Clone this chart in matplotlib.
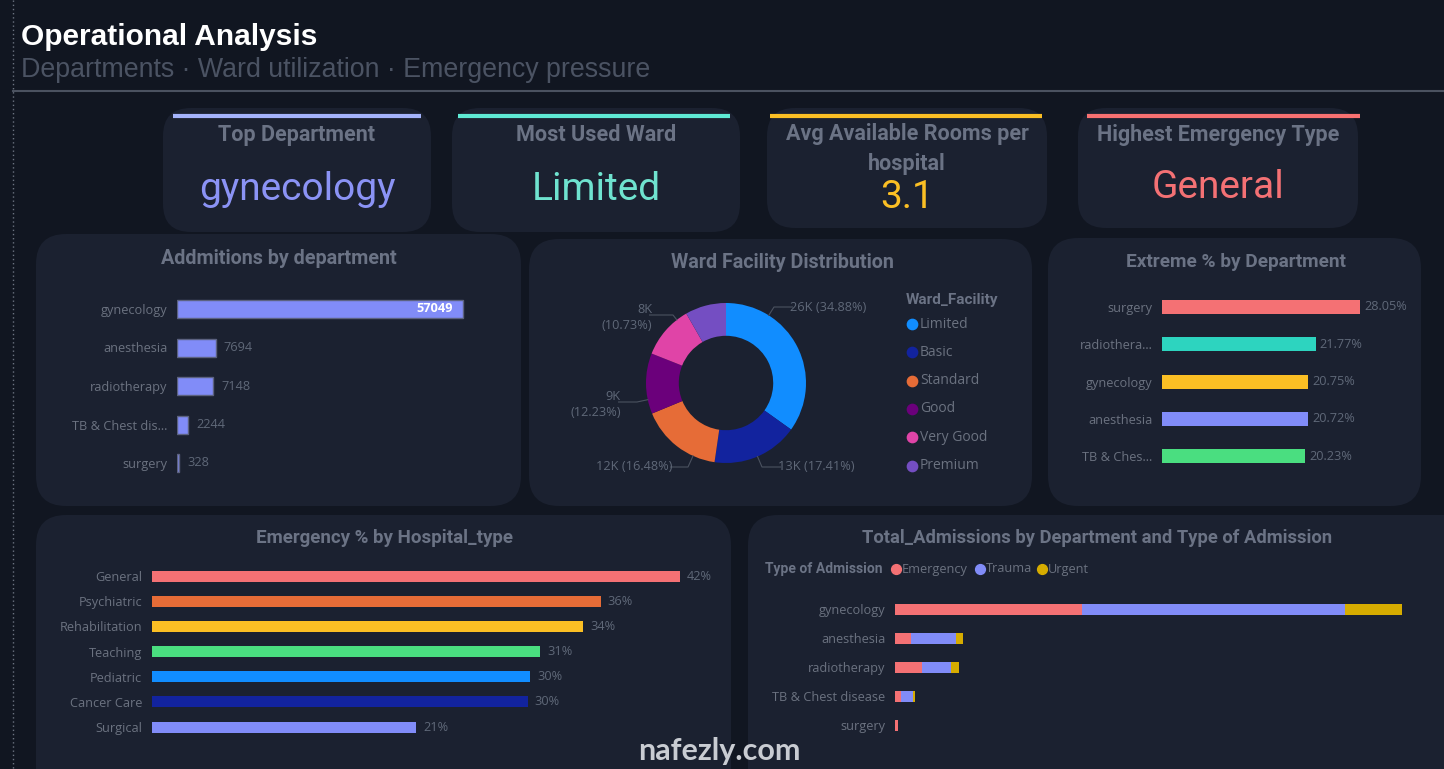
import matplotlib
matplotlib.use("Agg")
import matplotlib.pyplot as plt
from matplotlib.patches import FancyBboxPatch
import numpy as np

# ---- data ----
kpi_titles = ["Top Department", "Most Used Ward", "Avg Available Rooms per\nhospital", "Highest Emergency Type"]
kpi_values = ["gynecology", "Limited", "3.1", "General"]

departments = ["gynecology", "anesthesia", "radiotherapy", "TB & Chest disease", "surgery"]
dept_short = ["gynecology", "anesthesia", "radiotherapy", "TB & Chest dis...", "surgery"]
admissions = [57049, 7694, 7148, 2244, 328]

ward_facility = ["Limited", "Basic", "Standard", "Good", "Very Good", "Premium"]
ward_counts = [25973, 12964, 12272, 9107, 7990, 6158]

extreme_depts = ["surgery", "radiothera...", "gynecology", "anesthesia", "TB & Ches..."]
extreme_pct = [28.05, 21.77, 20.75, 20.72, 20.23]

hospital_types = ["General", "Psychiatric", "Rehabilitation", "Teaching", "Pediatric", "Cancer Care", "Surgical"]
emergency_pct = [42.0, 35.7, 34.3, 30.9, 30.1, 29.9, 21.0]

admission_types = ["Emergency", "Trauma", "Urgent"]
adm_emergency = [21040, 1800, 3040, 680, 328]
adm_trauma = [29590, 5060, 3260, 1350, 0]
adm_urgent = [6419, 834, 848, 214, 0]

# ---- style ----
BG = "#111621"
PANEL = "#1b2130"
TITLE_C = "#6b7385"
LABEL_C = "#6b7280"
VALUE_C = "#5f6878"
HEAD_FONT = "Liberation Sans"
BOLD_FONT = "Roboto"
TXT_FONT = "Open Sans"

kpi_colors = ["#8b93f5", "#6fe3cf", "#fbbf24", "#f47174"]
accent_colors = ["#a5b4fc", "#5eead4", "#fbbf24", "#f87171"]
ward_colors = ["#118dff", "#12239e", "#e66c37", "#6b007b", "#e044a7", "#744ec2"]
extreme_colors = ["#f47174", "#2dd4bf", "#fbbf24", "#818cf8", "#4ade80"]
hosp_colors = ["#f47174", "#e66c37", "#fbbf24", "#4ade80", "#118dff", "#12239e", "#818cf8"]
adm_colors = ["#f47174", "#818cf8", "#d6ac00"]

W, H = 1444, 769
fig = plt.figure(figsize=(W / 100, H / 100), dpi=100, facecolor=BG)

bg = fig.add_axes([0, 0, 1, 1])
bg.set_xlim(0, W)
bg.set_ylim(H, 0)
bg.axis("off")
bg.set_facecolor(BG)


def px_ax(x0, y0, x1, y1):
    ax = fig.add_axes([x0 / W, 1 - y1 / H, (x1 - x0) / W, (y1 - y0) / H])
    ax.patch.set_alpha(0)
    return ax


def panel(x0, y0, x1, y1, r=30):
    bg.add_patch(FancyBboxPatch((x0, y0), x1 - x0, y1 - y0,
                                boxstyle=f"round,pad=0,rounding_size={r}",
                                fc=PANEL, ec="none"))


# header
bg.plot([13, 13], [0, H], color="#6b7280", lw=1, ls=(0, (1, 2)))
bg.plot([13, W], [91, 91], color="#4b5260", lw=1.5)
bg.text(21, 37, "Operational Analysis", color="white", fontsize=21.5, fontweight="bold",
        family=HEAD_FONT, va="center")
bg.text(21, 70, "Departments · Ward utilization · Emergency pressure", color="#4b5363",
        fontsize=19.3, family=HEAD_FONT, va="center")

# KPI cards
kpi_boxes = [(163, 108, 431, 232), (452, 108, 740, 232), (767, 108, 1047, 228), (1078, 108, 1358, 228)]
kpi_accent = [(173, 421), (458, 730), (770, 1042), (1087, 1360)]
kpi_title_y = [135, 135, 149, 135]
kpi_value_y = [189, 189, 198, 187]
for i in range(4):
    x0, y0, x1, y1 = kpi_boxes[i]
    panel(x0, y0, x1, y1, r=28)
    bg.plot(kpi_accent[i], [116, 116], color=accent_colors[i], lw=3, solid_capstyle="butt")
    cx = (x0 + x1) / 2
    bg.text(cx, kpi_title_y[i], kpi_titles[i], color=TITLE_C, fontsize=15.5, fontweight="bold",
            family=BOLD_FONT, ha="center", va="center", linespacing=1.45)
    bg.text(cx, kpi_value_y[i], kpi_values[i], color=kpi_colors[i], fontsize=28,
            family=BOLD_FONT, ha="center", va="center")

# panels
panels = [(36, 234, 521, 506), (529, 239, 1032, 506), (1048, 238, 1421, 506),
          (36, 515, 731, 800), (748, 515, 1480, 800)]
panel_titles = ["Addmitions by department", "Ward Facility Distribution", "Extreme % by Department",
                "Emergency % by Hospital_type", "Total_Admissions by Department and Type of Admission"]
panel_title_x = [279, 782, 1236, 384, 1097]
panel_title_y = [258, 263, 262, 538, 538]
panel_title_size = [14.2, 14.2, 13.7, 13.5, 13.2]
for (x0, y0, x1, y1), t, tx, ty, fs in zip(panels, panel_titles, panel_title_x, panel_title_y,
                                            panel_title_size):
    panel(x0, y0, x1, y1)
    bg.text(tx, ty, t, color=TITLE_C, fontsize=fs,
            fontweight="bold", family=BOLD_FONT, ha="center", va="center")


def bar_axes(x0, x1, y_first, step, n, max_val, bar_px):
    ax = px_ax(x0, y_first - step / 2, x1, y_first + step * (n - 0.5))
    ax.set_ylim(n - 0.5, -0.5)
    ax.set_xlim(0, max_val * (x1 - x0) / bar_px)
    for s in ax.spines.values():
        s.set_visible(False)
    ax.set_xticks([])
    ax.tick_params(axis="y", length=0, colors=LABEL_C)
    return ax


# Admissions by department
n = len(admissions)
ax1 = bar_axes(177, 505, 309, 38.5, n, max(admissions), 286)
ax1.barh(range(n), admissions, height=18 / 38.5, color="#818cf8", edgecolor="#5c6280", lw=1)
ax1.set_yticks(range(n), dept_short, fontsize=9.2, family=TXT_FONT)
ax1.tick_params(axis="y", pad=7)
for i, v in enumerate(admissions):
    if i == 0:
        ax1.annotate(f"{v}", (v, i), xytext=(-7, 0), textcoords="offset points", ha="right",
                     va="center", color="white", fontsize=9.2, fontweight="bold", family=TXT_FONT)
    else:
        ax1.annotate(f"{v}", (v, i), xytext=(6, 0), textcoords="offset points", ha="left",
                     va="center", color=VALUE_C, fontsize=9.2, family=TXT_FONT)

# Ward facility donut
cx, cy, R = 726, 383, 80
axd = px_ax(cx - 1.5 * R, cy - 1.5 * R, cx + 1.5 * R, cy + 1.5 * R)
axd.pie(ward_counts, colors=ward_colors, startangle=90, counterclock=False, radius=1,
        wedgeprops=dict(width=0.41, edgecolor="none"))
axd.set_xlim(-1.5, 1.5)
axd.set_ylim(-1.5, 1.5)
axd.set_aspect("equal")
total = sum(ward_counts)
# leader elbows (px) for the labelled slices
elbows = [(774, 307, 790, "left"), (762, 467, 778, "left"), (688, 467, 673, "right"),
          (637, 402, 621, "right"), (673, 315, 652, "right")]
for i, (ex, ey, tx, ha) in enumerate(elbows):
    v = ward_counts[i]
    ux, uy = (ex - cx) / R, -(ey - cy) / R
    d = np.hypot(ux, uy)
    sx, sy = ux / d, uy / d
    txd = (tx - cx) / R
    axd.plot([sx, ux, txd + (0.03 if ha == "left" else -0.03)], [sy, uy, uy],
             color="#4b5260", lw=0.8)
    pct = 100 * v / total
    lab = f"{round(v / 1000)}K ({pct:.2f}%)" if i < 3 else f"{round(v / 1000)}K\n({pct:.2f}%)"
    axd.text(txd, uy - (0.03 if i >= 3 else 0), lab, ha=ha, va="center", color=VALUE_C,
             fontsize=9.2, family=TXT_FONT, linespacing=1.3, multialignment="right")

bg.text(906, 300, "Ward_Facility", color=TITLE_C, fontsize=11, fontweight="bold",
        family=BOLD_FONT, va="center")
for i, (name, col) in enumerate(zip(ward_facility, ward_colors)):
    y = 324 + i * 28.3
    bg.scatter([912], [y], s=55, color=col, zorder=3)
    bg.text(920, y, name, color=LABEL_C, fontsize=10, family=TXT_FONT, va="center")

# Extreme % by department
n = len(extreme_pct)
ax3 = bar_axes(1162, 1410, 307, 37.25, n, max(extreme_pct), 198)
ax3.barh(range(n), extreme_pct, height=14 / 37.25, color=extreme_colors)
ax3.set_yticks(range(n), extreme_depts, fontsize=9.2, family=TXT_FONT)
ax3.tick_params(axis="y", pad=7)
for i, v in enumerate(extreme_pct):
    ax3.annotate(f"{v:.2f}%", (v, i), xytext=(3, 0), textcoords="offset points", ha="left",
                 va="center", color=VALUE_C, fontsize=9.2, family=TXT_FONT)

# Emergency % by hospital type
n = len(emergency_pct)
ax4 = bar_axes(152, 720, 576, 25.17, n, max(emergency_pct), 528)
ax4.barh(range(n), emergency_pct, height=11 / 25.17, color=hosp_colors)
ax4.set_yticks(range(n), hospital_types, fontsize=9.2, family=TXT_FONT)
ax4.tick_params(axis="y", pad=7)
for i, v in enumerate(emergency_pct):
    ax4.annotate(f"{v:.0f}%", (v, i), xytext=(5, 0), textcoords="offset points", ha="left",
                 va="center", color=VALUE_C, fontsize=9.2, family=TXT_FONT)

# Stacked admissions by department and type
n = len(departments)
totals = np.array(adm_emergency) + np.array(adm_trauma) + np.array(adm_urgent)
ax5 = bar_axes(895, 1430, 609, 29, n, totals.max(), 507)
left = np.zeros(n)
for vals, col in zip([adm_emergency, adm_trauma, adm_urgent], adm_colors):
    ax5.barh(range(n), vals, left=left, height=11 / 29, color=col)
    left += np.array(vals)
ax5.set_yticks(range(n), departments, fontsize=9.2, family=TXT_FONT)
ax5.tick_params(axis="y", pad=7)

bg.text(765, 569, "Type of Admission", color=TITLE_C, fontsize=10, fontweight="bold",
        family=BOLD_FONT, va="center")
leg_x = [896, 980, 1042]
for x, name, col in zip(leg_x, admission_types, adm_colors):
    bg.scatter([x], [569], s=50, color=col, zorder=3)
    bg.text(x + 6, 569, name, color=LABEL_C, fontsize=9.2, family=TXT_FONT, va="center")

# watermark
bg.text(719, 751, "nafezly.com", color="#c9ccd2", fontsize=22, fontweight="bold",
        family="Lato", ha="center", va="center", zorder=10)

fig.savefig("out.png", dpi=100, facecolor=BG)
